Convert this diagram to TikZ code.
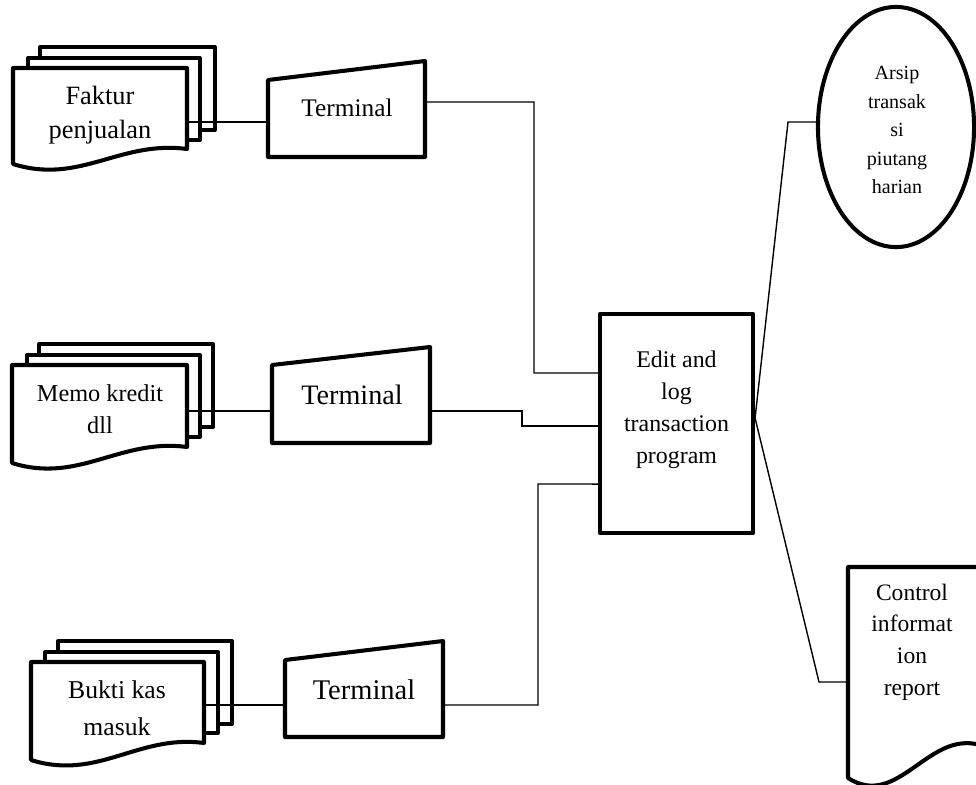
\documentclass[tikz,border=0pt]{standalone}
\usepackage{fontspec}
\setmainfont{Liberation Serif}
\usetikzlibrary{shapes.geometric}
\tikzset{
  heavy/.style={line width=1.15pt, line join=round},
  wire/.style={line width=0.4pt},
  sheet/.style={heavy, fill=white},
  lbl/.style={align=center, inner sep=0pt},
}
\begin{document}
\begin{tikzpicture}[x=0.01cm, y=-0.01cm]
\useasboundingbox (0,0) rectangle (976,784);
\clip (0,0) rectangle (976,784);

% ---- input documents (stacks of three sheets) ----
% Faktur penjualan
\draw[sheet] (40,47) rectangle (215,130);
\draw[sheet] (28,58) rectangle (200,140);
\draw[sheet] (13,68) -- (187,68) -- (187,149)
  .. controls (120,140) and (80,185) .. (13,164) -- cycle;
\node[lbl, font=\fontsize{7.5pt}{9.7pt}\selectfont] (faktur) at (100,115) {Faktur\\penjualan};
\coordinate (d1out) at (187,122);

% Memo kredit dll
\draw[sheet] (39,344) rectangle (213,427);
\draw[sheet] (27,355) rectangle (200,437);
\draw[sheet] (12,365) -- (187,365) -- (187,447)
  .. controls (120,438) and (79,484) .. (12,463) -- cycle;
\node[lbl, font=\fontsize{6.9pt}{9.1pt}\selectfont] (memo) at (100,409) {Memo kredit\\dll};
\coordinate (d2out) at (187,411);

% Bukti kas masuk
\draw[sheet] (58,641) rectangle (232,724);
\draw[sheet] (45,652) rectangle (218,733);
\draw[sheet] (31,662) -- (204,662) -- (204,743)
  .. controls (138,734) and (98,781) .. (31,760) -- cycle;
\node[lbl, font=\fontsize{7.3pt}{10.5pt}\selectfont] (bukti) at (117,708) {Bukti kas\\masuk};
\coordinate (d3out) at (204,705);

% ---- terminals (manual input) ----
\draw[sheet] (268,80) -- (425,61) -- (425,157) -- (268,157) -- cycle;
\node[lbl, font=\fontsize{7.2pt}{9pt}\selectfont] (term1) at (347,108) {Terminal};
\coordinate (t1in) at (268,122);
\coordinate (t1out) at (425,102);

\draw[sheet] (272,365) -- (430,347) -- (430,443) -- (272,443) -- cycle;
\node[lbl, font=\fontsize{8pt}{10pt}\selectfont] (term2) at (352,395) {Terminal};
\coordinate (t2in) at (272,411);
\coordinate (t2out) at (430,411);

\draw[sheet] (285,660) -- (443,641) -- (443,737) -- (285,737) -- cycle;
\node[lbl, font=\fontsize{8.1pt}{10pt}\selectfont] (term3) at (364,690) {Terminal};
\coordinate (t3in) at (285,705);
\coordinate (t3out) at (443,705);

% ---- processing program ----
\node[heavy, draw, minimum width=1.53cm, minimum height=2.19cm, inner sep=0pt] (prog) at (676.5,423.5) {};
\node[lbl, font=\fontsize{6.8pt}{9.1pt}\selectfont] (progtxt) at (676.5,410) {Edit and\\log\\transaction\\program};

% ---- daily receivable transaction file ----
\node[heavy, draw, ellipse, minimum width=1.56cm, minimum height=2.40cm, inner sep=0pt] (arsip) at (896,127) {};
\node[lbl, font=\fontsize{5.7pt}{8.1pt}\selectfont] (arsiptxt) at (897,130) {Arsip\\transak\\si\\piutang\\harian};

% ---- control information report ----
\draw[sheet] (848,567) -- (980,567) -- (980,745)
  .. controls (928,730) and (898,810) .. (848,778) -- cycle;
\node[lbl, font=\fontsize{6.7pt}{9pt}\selectfont] (reporttxt) at (912,642) {Control\\informat\\ion\\report};
\coordinate (repin) at (848,682);

% ---- connectors ----
\draw[wire] (d1out) -- (t1in);
\draw[wire] (d2out) -- (t2in);
\draw[wire] (d3out) -- (t3in);

\draw[wire] (t1out) -| (534,373) -- ([yshift=0.505cm]prog.west);
\draw[wire] (t2out) -- (522,411) |- ([yshift=-0.025cm]prog.west);
\draw[wire] (t3out) -| (538,484) -- ([yshift=-0.605cm]prog.west);

\coordinate (hub) at ([yshift=0.055cm]prog.east);
\draw[wire] (hub) -- (788,122) -- (arsip.west |- 788,122);
\draw[wire] (hub) -- (819,682) -- (repin);
\end{tikzpicture}
\end{document}
